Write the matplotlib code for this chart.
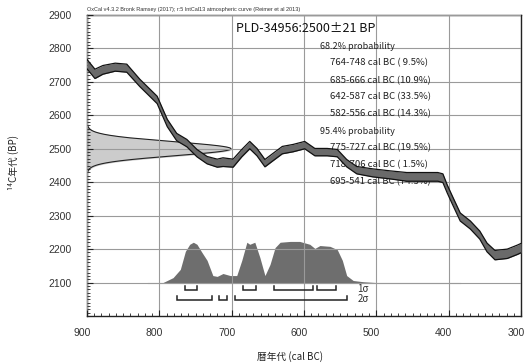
import matplotlib
matplotlib.use("Agg")
import matplotlib.pyplot as plt
import numpy as np
from matplotlib.ticker import MultipleLocator
import matplotlib.transforms as mtransforms

# ---- data ----
cal_years = [900, 889, 878, 861, 845, 827, 803, 789, 776, 762, 748, 734, 720, 712, 698,
             686, 675, 665, 654, 643, 630, 615, 599, 585, 568, 554, 541, 527, 505, 481,
             458, 435, 415, 408, 402, 395, 384, 370, 357, 347, 336, 319, 305, 300]
curve_bp = [2753, 2724, 2736, 2744, 2741, 2697, 2646, 2577, 2535, 2517, 2487, 2466, 2457,
            2460, 2457, 2487, 2511, 2490, 2457, 2475, 2496, 2502, 2511, 2490, 2490, 2487,
            2457, 2436, 2428, 2422, 2416, 2416, 2416, 2412, 2380, 2347, 2296, 2272, 2242,
            2205, 2182, 2186, 2198, 2203]
curve_err = [14, 14, 13, 12, 12, 11, 11, 11, 11, 11, 11, 11, 12, 13, 12, 11, 11, 11, 11, 11,
             11, 11, 11, 11, 11, 11, 11, 11, 12, 12, 13, 13, 13, 13, 12, 12, 12, 12, 12, 13,
             14, 14, 14, 14]

prob_years = [800, 795, 781, 771, 764, 758, 753, 748, 741, 734, 726, 720, 712, 702, 693,
              686, 679, 675, 668, 661, 654, 647, 640, 633, 619, 606, 592, 585, 578, 564,
              554, 547, 541, 532, 518, 500]
prob_rel = [0.0, 0.0, 0.12, 0.32, 0.76, 0.93, 0.98, 0.93, 0.73, 0.54, 0.17, 0.15, 0.22,
            0.17, 0.17, 0.54, 0.98, 0.93, 0.98, 0.61, 0.17, 0.44, 0.85, 0.98, 1.0, 1.0,
            0.93, 0.83, 0.90, 0.88, 0.80, 0.54, 0.17, 0.05, 0.02, 0.0]

c14_age = 2500
c14_err = 21

sigma1_ranges = [(764, 748), (685, 666), (642, 587), (582, 556)]
sigma2_ranges = [(775, 727), (718, 706), (695, 541)]

sample_label = "PLD-34956:2500\u00b121 BP"
prob_lines = [
    ("68.2% probability", True),
    ("764-748 cal BC ( 9.5%)", False),
    ("685-666 cal BC (10.9%)", False),
    ("642-587 cal BC (33.5%)", False),
    ("582-556 cal BC (14.3%)", False),
    ("95.4% probability", True),
    ("775-727 cal BC (19.5%)", False),
    ("718-706 cal BC ( 1.5%)", False),
    ("695-541 cal BC (74.3%)", False),
]
x_ticks = [900, 800, 700, 600, 500, 400, 300]
y_ticks = [2100, 2200, 2300, 2400, 2500, 2600, 2700, 2800, 2900]

jp = ['Noto Sans CJK JP', 'DejaVu Sans']
lat = ['Liberation Sans', 'DejaVu Sans']

# ---- figure ----
fig = plt.figure(figsize=(5.26, 3.64), dpi=100)
W, H = 526, 364
ax = fig.add_axes([87 / W, 1 - 316 / H, (521 - 87) / W, (316 - 15) / H])
ax.set_xlim(900, 300)
ax.set_ylim(2000, 2900)

ax.set_xticks(x_ticks)
ax.set_yticks(y_ticks)
ax.xaxis.set_minor_locator(MultipleLocator(10))
ax.yaxis.set_minor_locator(MultipleLocator(10))
ax.tick_params(which='both', direction='in', top=False, right=False, color='#222222')
ax.tick_params(which='major', length=4, width=0.8)
ax.tick_params(which='minor', length=2.5, width=0.6)
ax.tick_params(axis='y', which='major', pad=11, labelsize=7.5, labelcolor='#333333')
ax.tick_params(axis='x', which='major', pad=9, labelsize=7.5, labelcolor='#333333')
for lab in ax.get_xticklabels() + ax.get_yticklabels():
    lab.set_family(lat)
offset = mtransforms.ScaledTranslation(-5 / 100, 0, fig.dpi_scale_trans)
for lab in ax.get_xticklabels():
    lab.set_transform(lab.get_transform() + offset)

ax.set_axisbelow(False)
ax.grid(True, which='major', color='#9a9a9a', lw=0.8, zorder=2.5)
for s in ax.spines.values():
    s.set_color('#222222')
    s.set_linewidth(1.0)

# radiocarbon date gaussian on y axis
yy = np.linspace(c14_age - 3.2 * c14_err, c14_age + 3.2 * c14_err, 300)
gx = 199 * np.exp(-0.5 * ((yy - c14_age) / c14_err) ** 2)
ax.fill_betweenx(yy, 900, 900 - gx, color='#cccccc', zorder=1)
ax.plot(900 - gx, yy, color='#222222', lw=0.8, zorder=1.5)

# calibrated distribution
base = 2100
scale = 123
px = np.array(prob_years)
py = base + scale * np.array(prob_rel)
ax.plot([815, 385], [base, base], color='#aaaaaa', lw=0.8, zorder=1)
ax.fill_between(px, base, py, color='#6e6e6e', lw=0, zorder=1.2)

# calibration curve band
cx = np.array(cal_years)
cy = np.array(curve_bp)
ce = np.array(curve_err)
ax.fill_between(cx, cy - ce, cy + ce, color='#6a6a6a', lw=0, zorder=4)
ax.plot(cx, cy + ce, color='#111111', lw=0.9, zorder=4.1)
ax.plot(cx, cy - ce, color='#111111', lw=0.9, zorder=4.1)

# brackets
def bracket(ranges, y0, h=12):
    for a, b in ranges:
        ax.plot([a, a, b, b], [y0 + h, y0, y0, y0 + h], color='#222222', lw=1.1,
                zorder=3, solid_joinstyle='miter')

bracket(sigma1_ranges, 2078)
bracket(sigma2_ranges, 2048)
ax.text(526, 2082, "1\u03c3", fontsize=7, family=jp, va='center', ha='left', color='#333333')
ax.text(526, 2052, "2\u03c3", fontsize=7, family=jp, va='center', ha='left', color='#333333')

# texts
ax.text(694, 2861, sample_label, fontsize=9, family=jp, va='center', ha='left',
        color='#111111', zorder=3)
ys = [2807, 2756, 2705, 2655, 2604, 2553, 2502, 2451, 2401]
for (t, head), yv in zip(prob_lines, ys):
    ax.text(578 if head else 564, yv, t, fontsize=6.5 if head else 6.9, family=jp,
            va='center', ha='left', color='#222222', zorder=3)

fig.text(87 / W, 1 - 9 / H,
         "OxCal v4.3.2 Bronk Ramsey (2017); r:5 IntCal13 atmospheric curve (Reimer et al 2013)",
         fontsize=4, family=lat, va='center', ha='left', color='#333333')
fig.text(290 / W, 1 - 357 / H, "暦年代 (cal BC)", fontsize=7, family=jp,
         va='center', ha='center', color='#222222')
fig.text(13 / W, 1 - 162 / H, "\u00b9\u2074C年代 (BP)", fontsize=7, family=jp,
         va='center', ha='center', rotation=90, color='#222222')

fig.savefig("out.png", dpi=100)
